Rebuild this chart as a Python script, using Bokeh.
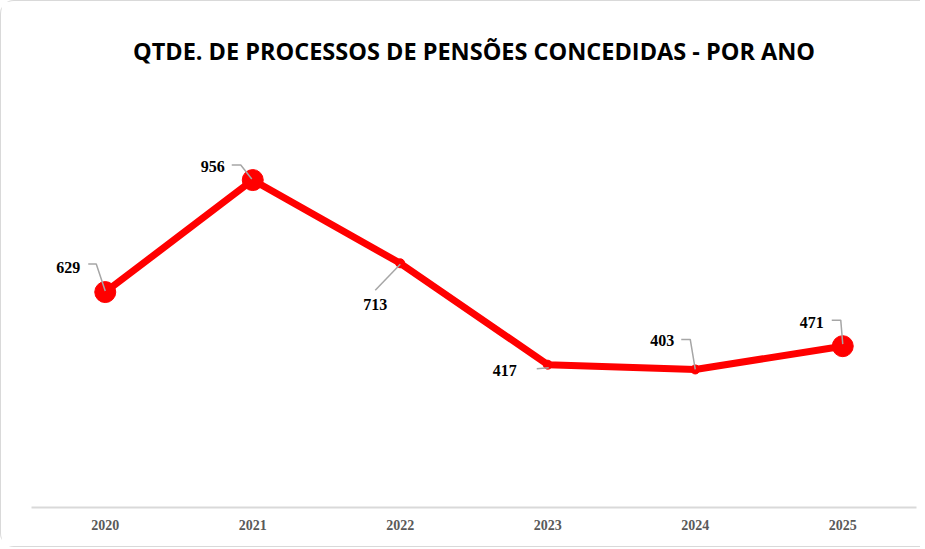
from bokeh.plotting import figure
from bokeh.models import Range1d, FixedTicker, ColumnDataSource
from bokeh.core.properties import value
from bokeh.embed import file_html
from bokeh.resources import INLINE

# ---- data ----
years = [2020, 2021, 2022, 2023, 2024, 2025]
year_labels = ["2020", "2021", "2022", "2023", "2024", "2025"]
counts = [629, 956, 713, 417, 403, 471]
count_labels = [str(v) for v in counts]
title_text = "QTDE. DE PROCESSOS DE PENSÕES CONCEDIDAS - POR ANO"

# ---- styles / layout ----
marker_sizes = [21, 21, 9, 9, 9, 21]
label_dx = [-37, -40, -25, -43, -33, -31]   # px
label_dy = [-25, -14, 41, 6, -29, -24]     # px, screen (down positive)
leader_px = [
    [(-17, -28), (-9, -28), (0, -1)],
    [(-21, -15), (-12, -15), (-1, -1)],
    [(-25, 27), (0, 1)],
    [(-11, 4), (1, 3)],
    [(-14, -30), (-5, -30), (0, 0)],
    [(-11, -26), (-2, -26), (0, -2)],
]

W, H = 920, 547
ml, mr, mt, mb = 30, 5, 95, 41
x0, x1 = years[0] - 0.5, years[-1] + 0.5
y0, y1 = 0, 1200
frame_w = W - ml - mr
frame_h = H - mt - mb
px_x = frame_w / (x1 - x0)
px_y = frame_h / (y1 - y0)

p = figure(width=W, height=H, output_backend="svg", toolbar_location=None,
           x_range=Range1d(x0, x1), y_range=Range1d(y0, y1),
           min_border_left=ml, min_border_right=mr, min_border_bottom=mb,
           min_border_top=mt)
p.styles = {"border": "1.5px solid #d9d9d9", "border-right": "none",
            "border-radius": "14px 0 0 14px"}

p.title.text = title_text
p.title.align = "center"
p.title.text_font = "Open Sans"
p.title.text_font_style = "bold"
p.title.text_font_size = "23.5px"
p.title.text_color = "#000000"
p.title.standoff = 59
p.title.offset = 0

p.outline_line_color = None
p.xgrid.visible = False
p.ygrid.visible = False
p.yaxis.visible = False

ax = p.xaxis[0]
ax.ticker = FixedTicker(ticks=years)
ax.major_label_overrides = {y: l for y, l in zip(years, year_labels)}
ax.axis_line_color = "#d9d9d9"
ax.axis_line_width = 2
ax.major_tick_line_color = None
ax.minor_tick_line_color = None
ax.major_label_text_font = "Liberation Serif"
ax.major_label_text_font_style = "bold"
ax.major_label_text_font_size = "14px"
ax.major_label_text_color = "#595959"
ax.major_label_standoff = 6

src = ColumnDataSource(dict(x=years, y=counts, s=marker_sizes, t=count_labels,
                            dx=label_dx, dy=label_dy))

p.line("x", "y", source=src, line_color="#ff0000", line_width=7, line_join="round")
p.scatter("x", "y", source=src, size="s", fill_color="#ff0000", line_color="#ff0000")

# leader lines (pixel offsets converted to data units)
xs, ys = [], []
for xv, yv, path in zip(years, counts, leader_px):
    xs.append([xv + dx / px_x for dx, dy in path])
    ys.append([yv - dy / px_y for dx, dy in path])
p.multi_line(xs, ys, line_color="#a6a6a6", line_width=1.5)

p.text("x", "y", text="t", source=src, x_offset="dx", y_offset="dy",
       text_font=value("Liberation Serif"), text_font_style="bold",
       text_font_size="16px", text_color="#000000",
       text_align="center", text_baseline="middle")

open("out.html", "w").write(file_html(p, INLINE))
